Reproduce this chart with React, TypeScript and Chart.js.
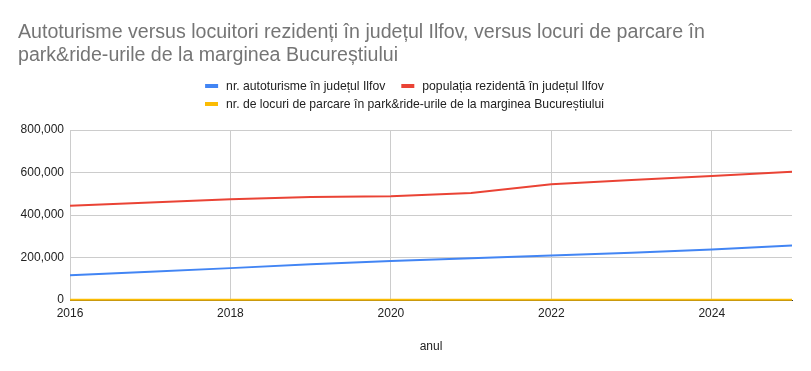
import React, { useEffect, useRef } from "react";
import { Chart, registerables } from "chart.js";

Chart.register(...registerables);

const titleLines = [
  "Autoturisme versus locuitori rezidenți în județul Ilfov, versus locuri de parcare în",
  "park&ride-urile de la marginea Bucureștiului",
];
const years = [2016, 2017, 2018, 2019, 2020, 2021, 2022, 2023, 2024, 2025];
const cars = [116000, 133000, 150000, 168000, 183000, 196000, 209000, 222000, 238000, 256000];
const population = [444000, 459000, 474000, 485000, 488000, 504000, 545000, 565000, 584000, 604000];
const parking = [1000, 1000, 1000, 1000, 1200, 1200, 1500, 1500, 1500, 1500];
const seriesNames = [
  "nr. autoturisme în județul Ilfov",
  "populația rezidentă în județul Ilfov",
  "nr. de locuri de parcare în park&ride-urile de la marginea Bucureștiului",
];
const seriesColors = ["#4285f4", "#ea4335", "#fbbc04"];
const xTitle = "anul";
const xTicks = [2016, 2018, 2020, 2022, 2024];
const yTicks = [0, 200000, 400000, 600000, 800000];

const FONT = "Arial, 'Liberation Sans', sans-serif";

const headerPlugin = {
  id: "header",
  afterDraw(chart: any) {
    const ctx = chart.ctx as CanvasRenderingContext2D;
    ctx.save();
    ctx.textBaseline = "middle";
    ctx.textAlign = "left";
    ctx.fillStyle = "#757575";
    ctx.font = `19.6px ${FONT}`;
    titleLines.forEach((t, i) => ctx.fillText(t, 18, 33 + i * 22.5));

    ctx.font = `12.2px ${FONT}`;
    const rows = [[0, 1], [2]];
    const rowY = [86, 104];
    const box = 13;
    const gap = 8;
    const itemGap = 16;
    rows.forEach((row, r) => {
      const widths = row.map((i) => box + gap + ctx.measureText(seriesNames[i]).width);
      const total = widths.reduce((a, b) => a + b, 0) + itemGap * (row.length - 1);
      let x = (chart.width - total) / 2 - 1;
      row.forEach((i, k) => {
        ctx.fillStyle = seriesColors[i];
        ctx.fillRect(x, rowY[r] - 2, box, 4);
        ctx.fillStyle = "#222222";
        ctx.fillText(seriesNames[i], x + box + gap, rowY[r] + 0.5);
        x += widths[k] + itemGap;
      });
    });
    ctx.restore();
  },
};

export default function App() {
  const ref = useRef<HTMLCanvasElement>(null);
  useEffect(() => {
    const mk = (data: number[]) => data.map((v, i) => ({ x: years[i], y: v }));
    const chart = new Chart(ref.current!, {
      type: "line",
      data: {
        datasets: [
          { label: seriesNames[0], data: mk(cars), borderColor: seriesColors[0], backgroundColor: seriesColors[0], borderWidth: 2, pointRadius: 0, tension: 0 },
          { label: seriesNames[1], data: mk(population), borderColor: seriesColors[1], backgroundColor: seriesColors[1], borderWidth: 2, pointRadius: 0, tension: 0 },
          { label: seriesNames[2], data: mk(parking), borderColor: seriesColors[2], backgroundColor: seriesColors[2], borderWidth: 2, pointRadius: 0, tension: 0, clip: false as any },
        ],
      },
      options: {
        animation: false,
        responsive: false,
        layout: { padding: { top: 130, right: 19, left: 0, bottom: 0 } },
        plugins: { legend: { display: false }, title: { display: false }, tooltip: { enabled: false } },
        scales: {
          x: {
            type: "linear",
            min: 2016,
            max: 2025,
            afterFit: (s: any) => { s.height = 71; },
            afterBuildTicks: (s: any) => { s.ticks = xTicks.map((v) => ({ value: v })); },
            ticks: {
              padding: 6,
              color: "#222222",
              font: { family: FONT, size: 12 },
              callback: (v: any) => String(v),
              maxRotation: 0,
              autoSkip: false,
            },
            grid: { color: "#cccccc", drawTicks: false },
            border: { display: true, color: "#333333", width: 1 },
            title: {
              display: true,
              text: xTitle,
              color: "#222222",
              font: { family: FONT, size: 12 },
              padding: { top: 0, bottom: 17 },
            },
          },
          y: {
            min: 0,
            max: 800000,
            afterFit: (s: any) => { s.width = 70; },
            afterBuildTicks: (s: any) => { s.ticks = yTicks.map((v) => ({ value: v })); },
            ticks: {
              padding: 6,
              color: "#222222",
              font: { family: FONT, size: 12 },
              callback: (v: any) => Number(v).toLocaleString("en-US"),
            },
            grid: { color: "#cccccc", drawTicks: false },
            border: { display: false },
          },
        },
      },
      plugins: [headerPlugin],
    });
    return () => chart.destroy();
  }, []);
  return (
    <div style={{ position: "fixed", left: 0, top: 0, width: 811, height: 371, background: "#fff" }}>
      <canvas ref={ref} width={811} height={371} style={{ display: "block" }} />
    </div>
  );
}
